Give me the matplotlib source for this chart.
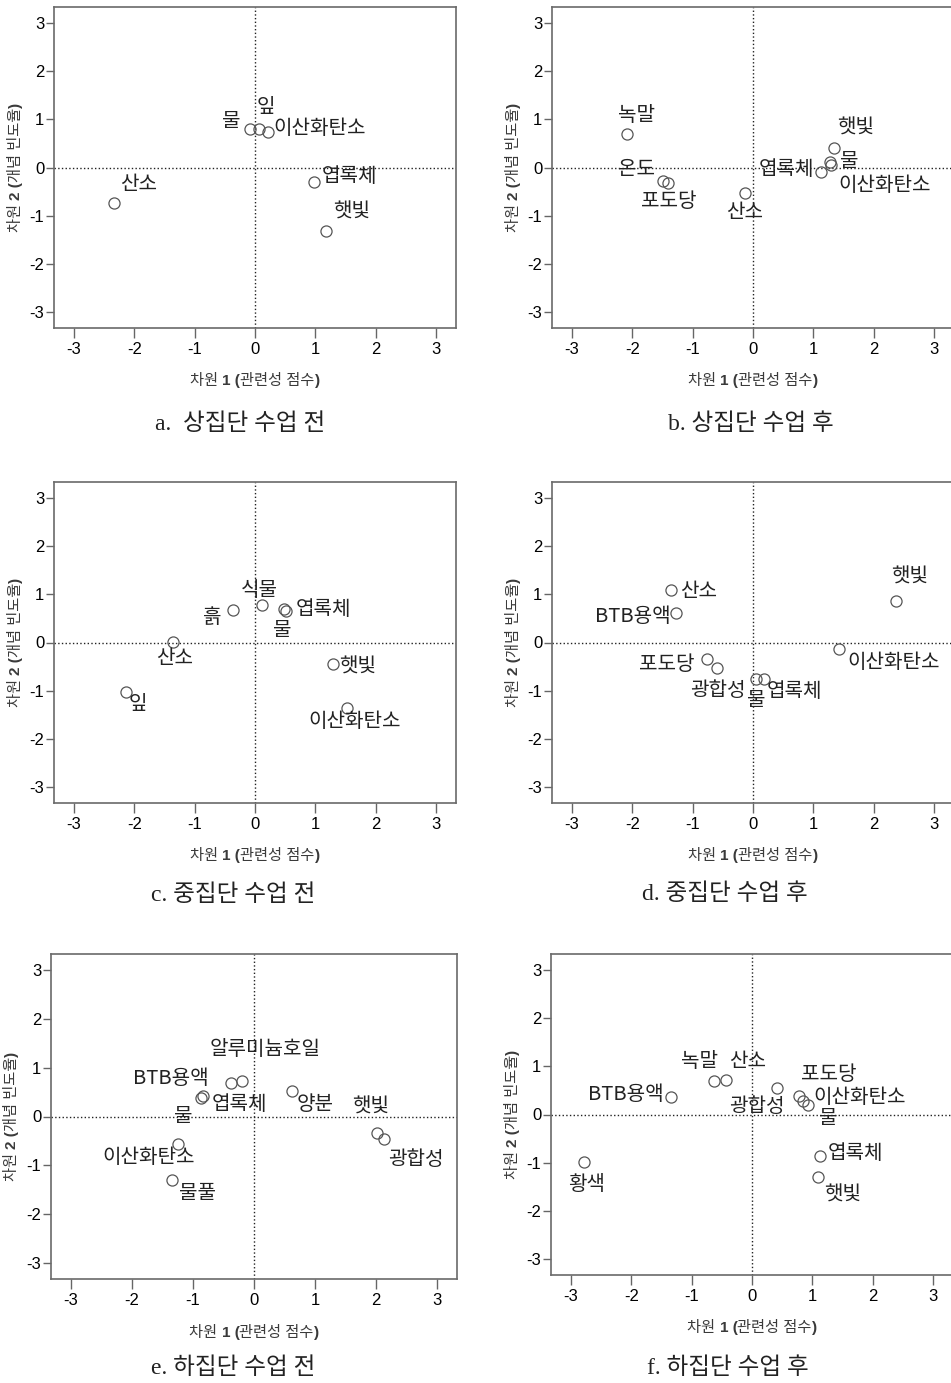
import matplotlib
matplotlib.use("Agg")
import matplotlib.pyplot as plt
from matplotlib import font_manager

# --- data: concept words and their CA coordinates (dim 1, dim 2) ---
a_words = ["산소", "물", "잎", "이산화탄소", "엽록체", "햇빛"]
a_dim1 = [-2.33, -0.08, 0.07, 0.21, 0.97, 1.18]
a_dim2 = [-0.73, 0.79, 0.80, 0.73, -0.30, -1.32]

b_words = ["녹말", "온도", "포도당", "산소", "엽록체", "물", "이산화탄소", "햇빛"]
b_dim1 = [-2.09, -1.49, -1.40, -0.13, 1.12, 1.28, 1.30, 1.35]
b_dim2 = [0.69, -0.28, -0.32, -0.53, -0.10, 0.11, 0.06, 0.40]

c_words = ["흙", "식물", "물", "엽록체", "산소", "잎", "햇빛", "이산화탄소"]
c_dim1 = [-0.37, 0.12, 0.48, 0.52, -1.36, -2.13, 1.29, 1.52]
c_dim2 = [0.67, 0.77, 0.70, 0.66, 0.01, -1.02, -0.45, -1.35]

d_words = ["산소", "BTB용액", "포도당", "광합성", "물", "엽록체", "이산화탄소", "햇빛"]
d_dim1 = [-1.36, -1.27, -0.76, -0.59, 0.05, 0.18, 1.43, 2.37]
d_dim2 = [1.09, 0.62, -0.35, -0.52, -0.75, -0.75, -0.14, 0.86]

e_words = ["알루미늄호일", "BTB용액", "엽록체", "물", "양분", "햇빛", "광합성", "이산화탄소", "물풀"]
e_dim1 = [-0.19, -0.38, -0.84, -0.87, 0.62, 2.02, 2.14, -1.25, -1.34]
e_dim2 = [0.72, 0.69, 0.42, 0.37, 0.52, -0.33, -0.47, -0.56, -1.31]

f_words = ["황색", "BTB용액", "녹말", "산소", "광합성", "포도당", "이산화탄소", "물", "엽록체", "햇빛"]
f_dim1 = [-2.78, -1.34, -0.63, -0.43, 0.42, 0.78, 0.85, 0.92, 1.12, 1.09]
f_dim2 = [-0.99, 0.36, 0.70, 0.72, 0.55, 0.38, 0.28, 0.19, -0.86, -1.29]

ticks = [-3, -2, -1, 0, 1, 2, 3]
captions = ["a.  상집단 수업 전", "b. 상집단 수업 후", "c. 중집단 수업 전",
            "d. 중집단 수업 후", "e. 하집단 수업 전", "f. 하집단 수업 후"]

# --- layout: label offsets (pixels, alignment) and panel boxes ---
a_offs = [(6, 18, "left"), (-10, 8, "right"), (-3, 21, "left"), (6, 4, "left"),
          (8, 5, "left"), (7, 19, "left")]
b_offs = [(-9, 19, "left"), (-8, 11, "right"), (-27, -19, "left"), (-19, -19, "left"),
          (-6, 3, "right"), (10, 1, "left"), (7, -21, "left"), (3, 20, "left")]
c_offs = [(-11, -7, "right"), (-21, 15, "left"), (-11, -22, "left"), (9, 1, "left"),
          (-17, -16, "left"), (2, -13, "left"), (6, -3, "left"), (-38, -14, "left")]
d_offs = [(9, -2, "left"), (-6, -4, "right"), (-13, -5, "right"), (-27, -23, "left"),
          (-9, -22, "left"), (3, -13, "left"), (8, -13, "left"), (-5, 24, "left")]
e_offs = [(-33, 32, "left"), (-22, 4, "right"), (9, -8, "left"), (-27, -18, "left"),
          (5, -13, "left"), (-25, 25, "left"), (4, -20, "left"), (17, -14, "right"),
          (7, -13, "left")]
f_offs = [(-16, -22, "left"), (-7, 3, "right"), (-33, 19, "left"), (3, 18, "left"),
          (-48, -19, "left"), (2, 22, "left"), (10, 4, "left"), (11, -13, "left"),
          (8, 2, "left"), (6, -18, "left")]

# left, top, width, height in pixels
boxes = [(54, 7, 402, 321), (552, 7, 402, 321),
         (54, 482, 402, 321), (552, 482, 402, 321),
         (51, 954, 406, 325), (551, 954, 402, 321)]
cap_pos = [(240, 424), (751, 424), (233, 895), (725, 894), (233, 1368), (728, 1368)]

W, H = 951, 1383
names = {f.name for f in font_manager.fontManager.ttflist}
tick_font = "Liberation Sans Narrow" if "Liberation Sans Narrow" in names else "Liberation Sans"
KR = "Noto Sans CJK KR"
plt.rcParams["font.family"] = ["Liberation Sans", KR]

fig = plt.figure(figsize=(W / 100, H / 100), dpi=100)

panels = [(a_words, a_dim1, a_dim2, a_offs), (b_words, b_dim1, b_dim2, b_offs),
          (c_words, c_dim1, c_dim2, c_offs), (d_words, d_dim1, d_dim2, d_offs),
          (e_words, e_dim1, e_dim2, e_offs), (f_words, f_dim1, f_dim2, f_offs)]

label_chains = []


def chained_label(ax, pieces, rotation):
    """Draw a label made of normal/bold pieces, one after the other."""
    props = dict(fontsize=11, color="#3a3a3a", family=["Liberation Sans", KR])
    if rotation == 0:
        first = ax.text(0.5, -0.165, pieces[0][0], transform=ax.transAxes,
                        ha="left", va="center", fontweight=pieces[0][1], **props)
        prev = first
        for s, w in pieces[1:]:
            prev = ax.annotate(s, xy=(1, 0), xycoords=prev, ha="left", va="bottom",
                               fontweight=w, **props)
    else:
        first = ax.text(-0.095, 0.5, pieces[0][0], transform=ax.transAxes,
                        ha="center", va="bottom", rotation=90,
                        fontweight=pieces[0][1], **props)
        prev = first
        for s, w in pieces[1:]:
            prev = ax.annotate(s, xy=(0.5, 1), xycoords=prev, ha="center", va="bottom",
                               rotation=90, fontweight=w, **props)
    label_chains.append((ax, first, prev, rotation))


for i, (words, d1, d2, offs) in enumerate(panels):
    l, t, w, h = boxes[i]
    ax = fig.add_axes([l / W, 1 - (t + h) / H, w / W, h / H])
    ax.plot(d1, d2, "o", ms=8, mfc="none", mec="#555555", mew=0.9, zorder=3)
    ax.axhline(0, color="#222222", ls=":", lw=1, zorder=1)
    ax.axvline(0, color="#222222", ls=":", lw=1, zorder=1)
    for word, x, y, (dx, dy, ha) in zip(words, d1, d2, offs):
        ax.annotate(word, (x, y), xytext=(dx, dy), textcoords="offset pixels",
                    ha=ha, va="center", fontsize=14.5, color="#222222", family=KR)
    ax.set_xlim(-3.33, 3.33)
    ax.set_ylim(-3.33, 3.33)
    ax.set_xticks(ticks)
    ax.set_yticks(ticks)
    ax.set_xticklabels([str(v) for v in ticks], family=tick_font, fontsize=12)
    ax.set_yticklabels([str(v) for v in ticks], family=tick_font, fontsize=12)
    ax.tick_params(axis="x", length=7, width=1, color="#666666", pad=3)
    ax.tick_params(axis="y", length=5.5, width=1, color="#666666", pad=1.5)
    for sp in ax.spines.values():
        sp.set_color("#6a6a6a")
        sp.set_linewidth(1.2)
    chained_label(ax, [("차원 ", "normal"), ("1 (", "bold"), ("관련성 점수", "normal"),
                       (")", "bold")], 0)
    chained_label(ax, [("차원 ", "normal"), ("2 (", "bold"), ("개념 빈도율", "normal"),
                       (")", "bold")], 90)
    cx, cy = cap_pos[i]
    fig.text(cx / W, 1 - cy / H, captions[i], ha="center", va="center", fontsize=17,
             color="#222222", family=["Liberation Serif", KR])

# center the chained axis labels on their axes
fig.canvas.draw()
r = fig.canvas.get_renderer()
for ax, first, last, rot in label_chains:
    b0 = first.get_window_extent(r)
    b1 = last.get_window_extent(r)
    abox = ax.get_window_extent(r)
    inv = ax.transAxes.inverted()
    if rot == 0:
        mid = (b0.x0 + b1.x1) / 2
        shift = (abox.x0 + abox.x1) / 2 - mid
        px, py = ax.transAxes.transform(first.get_position())
        first.set_position(inv.transform((px + shift, py)))
    else:
        mid = (b0.y0 + b1.y1) / 2
        shift = (abox.y0 + abox.y1) / 2 - mid
        px, py = ax.transAxes.transform(first.get_position())
        first.set_position(inv.transform((px, py + shift)))

fig.savefig("out.png", dpi=100)
